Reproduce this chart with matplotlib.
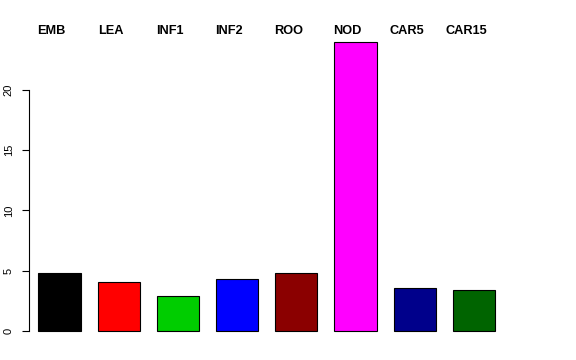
import numpy as np
import matplotlib.pyplot as plt

# Values
labels = ["EMB", "LEA", "INF1", "INF2", "ROO", "NOD", "CAR5", "CAR15"]
values = [4.78, 4.04, 2.87, 4.28, 4.81, 24.0, 3.54, 3.40]
colors = ["black", "red", "#00CD00", "blue", "#8B0000", "magenta", "#00008B", "#006400"]
yticks = [0, 5, 10, 15, 20]

W, H = 576, 360
fig = plt.figure(figsize=(W / 100, H / 100), dpi=100)

# pixel layout (from top-left)
ax_left, ax_right = 28.5, 560
ax_top, ax_bottom = 20, 345
px_per_unit_y = 12.06
y0_px = 331
px_per_bar = 59.2
x0_px = 59.5

ax = fig.add_axes([ax_left / W, 1 - ax_bottom / H,
                   (ax_right - ax_left) / W, (ax_bottom - ax_top) / H])

x = np.arange(len(labels))
ax.bar(x, values, width=0.714, color=colors, edgecolor="black", linewidth=0.8)

ax.set_xlim((ax_left - x0_px) / px_per_bar, (ax_right - x0_px) / px_per_bar)
ax.set_ylim(-(ax_bottom - y0_px) / px_per_unit_y, (y0_px - ax_top) / px_per_unit_y)

# labels along the top, baseline at ~34 px
for xi, lab in zip(x, labels):
    ax.text(xi - 0.132, (y0_px - 34.3) / px_per_unit_y, lab, ha="center",
            va="baseline", fontsize=9.2, fontweight="bold", family="Liberation Sans")

for s in ["top", "right", "bottom"]:
    ax.spines[s].set_visible(False)
ax.spines["left"].set_bounds(0, 20)
ax.spines["left"].set_linewidth(0.8)
ax.set_xticks([])
ax.set_yticks(yticks)
ax.set_yticklabels([str(t) for t in yticks], rotation=90, va="center",
                   fontsize=8, family="Liberation Sans")
ax.tick_params(axis="y", length=5.2, width=0.8, pad=5.5)

plt.savefig("out.png", dpi=100)
